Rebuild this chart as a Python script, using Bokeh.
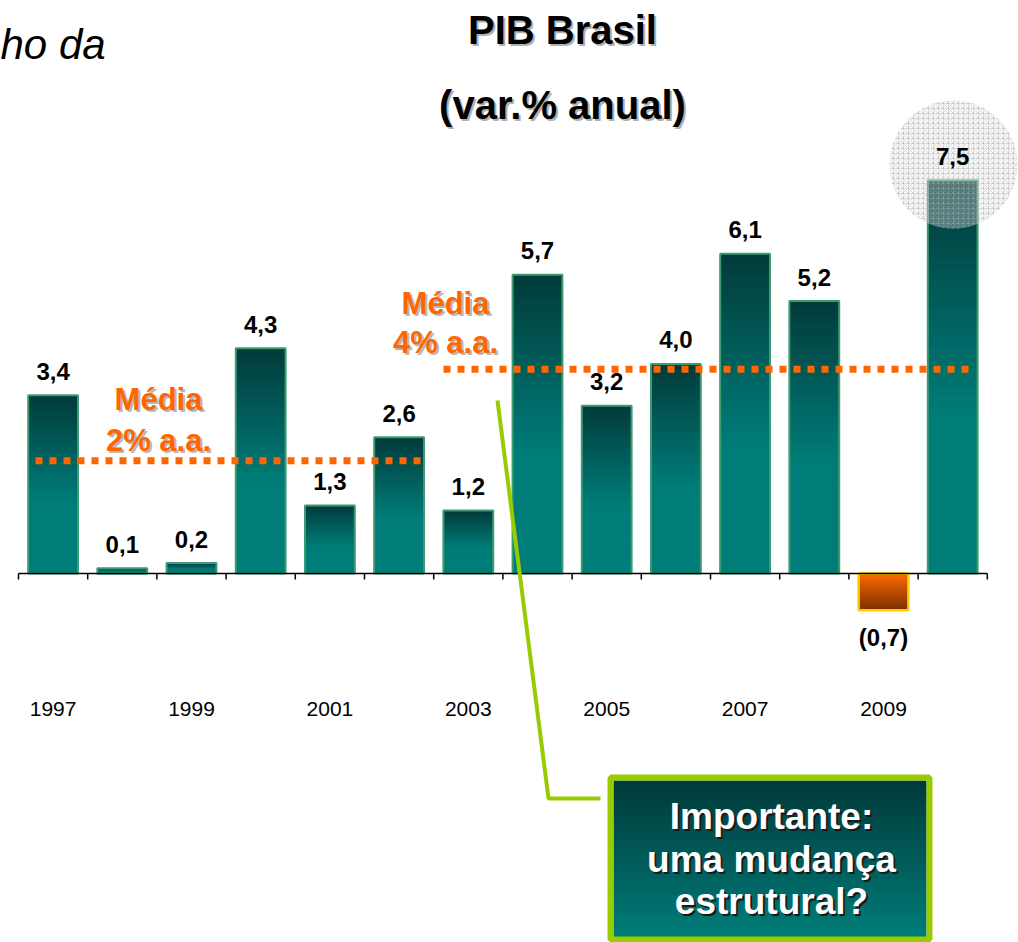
from bokeh.plotting import figure
from bokeh.embed import file_html
from bokeh.resources import INLINE
from bokeh.core.properties import value
from bokeh.models import ColumnDataSource

# ---- data ----
years = [1997, 1998, 1999, 2000, 2001, 2002, 2003, 2004, 2005, 2006, 2007, 2008, 2009, 2010]
gdp = [3.4, 0.1, 0.2, 4.3, 1.3, 2.6, 1.2, 5.7, 3.2, 4.0, 6.1, 5.2, -0.7, 7.5]
avg_labels = ["2% a.a.", "4% a.a."]
avg_values = [2.15, 3.9]
year_ticks = [str(y) if k % 2 == 0 else "" for k, y in enumerate(years)]

FONT = value("Liberation Sans")

PX_X = 69.2   # pixels per category
PX_Y = 52.4   # pixels per unit of value

# reference-pixel helpers (for annotations only)
def X(px):
    return (px - 52.6) / PX_X

def Y(py):
    return (573 - py) / PX_Y

p = figure(width=1018, height=942, x_range=(X(0), X(1018)), y_range=(Y(942), Y(0)),
           output_backend="svg", toolbar_location=None, min_border=0,
           x_axis_location=None, y_axis_location=None)
p.grid.visible = False
p.outline_line_color = None
p.background_fill_color = "white"


def lerp(c1, c2, t):
    a = [int(c1[i:i + 2], 16) for i in (1, 3, 5)]
    b = [int(c2[i:i + 2], 16) for i in (1, 3, 5)]
    return "#%02x%02x%02x" % tuple(int(round(a[j] + (b[j] - a[j]) * t)) for j in range(3))


DARK, TEAL = "#013b3b", "#007d79"
BROWN, ORANGE = "#7a3000", "#ff6a00"
W = 0.36
N = 40
OV = 1.0 / PX_Y  # one pixel overlap between slices

# gradient slices for bars (computed from data)
sl = dict(left=[], right=[], top=[], bottom=[], color=[])
for i, v in enumerate(gdp):
    for k in range(N):
        t0, t1 = k / N, (k + 1) / N
        top = v * (1 - t0)
        bot = v * (1 - t1)
        if k < N - 1:
            bot = bot - OV if v >= 0 else bot + OV
        sl["left"].append(i - W)
        sl["right"].append(i + W)
        sl["top"].append(top)
        sl["bottom"].append(bot)
        tm = (k + 0.5) / N
        if v >= 0:
            sl["color"].append(lerp(DARK, TEAL, min(1.0, tm / 0.6)))
        else:
            sl["color"].append(lerp(BROWN, ORANGE, tm))
p.quad(left="left", right="right", top="top", bottom="bottom", fill_color="color",
       line_color=None, source=ColumnDataSource(sl))

pos_i = [i for i, v in enumerate(gdp) if v >= 0]
neg_i = [i for i, v in enumerate(gdp) if v < 0]
p.quad(left=[i - W for i in pos_i], right=[i + W for i in pos_i],
       top=[gdp[i] for i in pos_i], bottom=[0] * len(pos_i),
       fill_color=None, line_color="#3d9b72", line_width=2)
p.quad(left=[i - W for i in neg_i], right=[i + W for i in neg_i],
       top=[0] * len(neg_i), bottom=[gdp[i] for i in neg_i],
       fill_color=None, line_color="#ffcc00", line_width=2.5)

# axis line and ticks
n = len(years)
p.segment(x0=[-0.5], y0=[0], x1=[n - 0.5], y1=[0], line_color="black", line_width=1.5)
p.segment(x0=[k - 0.5 for k in range(n + 1)], y0=[0] * (n + 1),
          x1=[k - 0.5 for k in range(n + 1)], y1=[-6 / PX_Y] * (n + 1),
          line_color="black", line_width=1.5)

# year labels
p.text(x=list(range(n)), y=[Y(708)] * n, text=year_ticks, text_font=FONT,
       text_font_size="21px", text_align="center", text_baseline="middle", text_color="black")

# average dotted lines
p.segment(x0=[X(35), X(443)], y0=avg_values, x1=[X(425), X(975)], y1=avg_values,
          line_color="#ff6600", line_width=7, line_dash="7 7")

# Média labels
for (cx, cy1, cy2), lab in zip([(158, 399, 440), (445, 303, 342)], avg_labels):
    for dx, dy, col in [(2, 2, "#b8b8b8"), (0, 0, "#ff6600")]:
        p.text(x=[X(cx)], y=[Y(cy1)], text=["Média"], x_offset=dx, y_offset=dy,
               text_font=FONT, text_font_style="bold", text_font_size="31px",
               text_align="center", text_baseline="middle", text_color=col)
        p.text(x=[X(cx)], y=[Y(cy2)], text=[lab], x_offset=dx, y_offset=dy,
               text_font=FONT, text_font_style="bold", text_font_size="31px",
               text_align="center", text_baseline="middle", text_color=col)

# highlight circle around last value
p.scatter(x=[X(953)], y=[Y(164)], size=128, marker="circle", fill_color="#f4f4f4",
          fill_alpha=0.3, line_color=None, hatch_pattern="criss_cross",
          hatch_color="#a8a8a8", hatch_scale=5, hatch_weight=0.5, hatch_alpha=0.7)

# value labels
def fmt(v):
    s = ("%.1f" % abs(v)).replace(".", ",")
    return "(" + s + ")" if v < 0 else s

p.text(x=pos_i, y=[gdp[i] for i in pos_i], text=[fmt(gdp[i]) for i in pos_i],
       y_offset=-24, text_font=FONT, text_font_style="bold", text_font_size="24px",
       text_align="center", text_baseline="middle", text_color="black")
p.text(x=neg_i, y=[gdp[i] for i in neg_i], text=[fmt(gdp[i]) for i in neg_i],
       y_offset=27, text_font=FONT, text_font_style="bold", text_font_size="24px",
       text_align="center", text_baseline="middle", text_color="black")

# title
for txt, cy in [("PIB Brasil", 29), ("(var.% anual)", 104)]:
    for dx, dy, col in [(2, 2, "#b0b0b0"), (0, 0, "black")]:
        p.text(x=[X(562)], y=[Y(cy)], text=[txt], x_offset=dx, y_offset=dy,
               text_font=FONT, text_font_style="bold", text_font_size="40px",
               text_align="center", text_baseline="middle", text_color=col)

# heading text at top left
p.text(x=[X(0)], y=[Y(44)], text=["ho  da"], text_font=FONT, text_font_style="italic",
       text_font_size="42px", text_align="left", text_baseline="middle", text_color="black")

# connector line
p.line(x=[X(497), X(548), X(600)], y=[Y(400), Y(798), Y(798)], line_color="#99cc00", line_width=4)

# annotation box with gradient
bx0, bx1, by0, by1 = 613, 926, 780, 937
M = 40
box = dict(left=[], right=[], top=[], bottom=[], color=[])
for k in range(M):
    box["left"].append(X(bx0))
    box["right"].append(X(bx1))
    box["top"].append(Y(by0 + (by1 - by0) * k / M))
    box["bottom"].append(Y(by0 + (by1 - by0) * (k + 1) / M + (1 if k < M - 1 else 0)))
    box["color"].append(lerp("#003a3a", "#007c78", (k + 0.5) / M))
p.quad(left="left", right="right", top="top", bottom="bottom", fill_color="color",
       line_color=None, source=ColumnDataSource(box))
p.quad(left=[X(610)], right=[X(929)], top=[Y(777)], bottom=[Y(939)], fill_color=None,
       line_color="#99cc00", line_width=6)

for txt, cy in [("Importante:", 816), ("uma mudança", 859), ("estrutural?", 901)]:
    for dx, dy, col in [(2, 2, "#1a1a1a"), (0, 0, "white")]:
        p.text(x=[X(771)], y=[Y(cy)], text=[txt], x_offset=dx, y_offset=dy,
               text_font=FONT, text_font_style="bold", text_font_size="37px",
               text_align="center", text_baseline="middle", text_color=col)

open("out.html", "w").write(file_html(p, INLINE))
